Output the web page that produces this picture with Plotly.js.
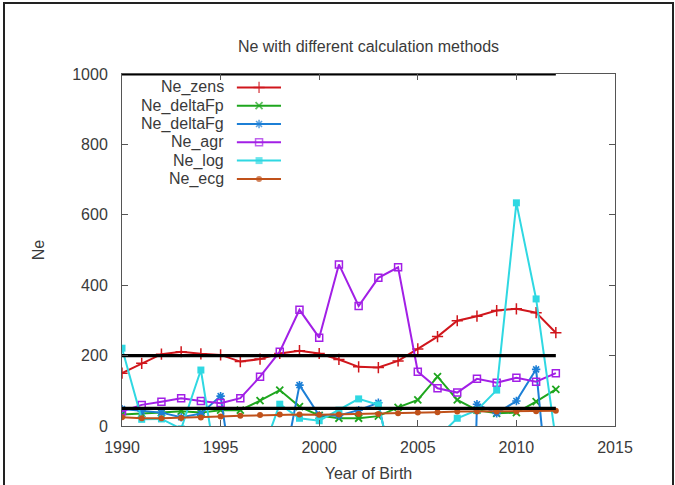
<!DOCTYPE html>
<html>
<head>
<meta charset="utf-8">
<script src="https://cdn.plot.ly/plotly-3.0.1.min.js"></script>
<style>
  html, body { margin: 0; padding: 0; background: #fff; }
  #wrap { position: relative; width: 675px; height: 485px; overflow: hidden; }
  #chart { width: 675px; height: 485px; }
  #frame { position: absolute; left: 3px; top: 2px; width: 667px; height: 520px;
           border: 2px solid #222; pointer-events: none; }
</style>
</head>
<body>
<div id="wrap">
  <div id="chart"></div>
  <div id="frame"></div>
</div>
<script>
// Year of birth
const years = [1990, 1991, 1992, 1993, 1994, 1995, 1996, 1997, 1998, 1999, 2000, 2001,
               2002, 2003, 2004, 2005, 2006, 2007, 2008, 2009, 2010, 2011, 2012];

// Ne estimates per calculation method (negative estimates fall below the axis)
const neZens    = [150, 178, 204, 211, 205, 202, 183, 190, 206, 214, 206, 189,
                   168, 166, 185, 219, 254, 299, 312, 328, 333, 322, 265];
const neDeltaFp = [33, 35, 38, 42, 38, 45, 45, 72, 102, 55, 30, 22,
                   22, 28, 53, 74, 140, 74, 45, 36, 38, 69, 104];
const neDeltaFg = [48, 42, 38, 25, 35, 85, -294, -200, -174, 116, 30, 30,
                   45, 66, -198, -100, -100, -2000, 62, 36, 71, 161, -414];
const neAgr     = [42, 60, 69, 79, 71, 65, 79, 140, 211, 330, 251, 459,
                   341, 421, 451, 154, 107, 95, 134, 123, 137, 126, 150];
const neLog     = [221, 19, 20, -8, 159, -186, -150, -93, 62, 22, 15, 45,
                   77, 60, -180, -100, -33, 22, 45, 102, 634, 361, -40];
const neEcg     = [25, 22, 22, 23, 24, 27, 29, 31, 33, 33, 32, 33,
                   34, 34, 36, 38, 39, 41, 41, 41, 41, 42, 43];

// Reference levels
const thresholds = [50, 200, 1000];
const thresholdSpan = [1990, 2012];

const seriesNames = ['Ne_zens', 'Ne_deltaFp', 'Ne_deltaFg', 'Ne_agr', 'Ne_log', 'Ne_ecg'];
const seriesValues = [neZens, neDeltaFp, neDeltaFg, neAgr, neLog, neEcg];

const styles = [
  { color: '#d0161c', symbol: 'cross-thin', size: 8, lw: 1.5 },
  { color: '#1ea61e', symbol: 'x-thin', size: 7, lw: 1.8 },
  { color: '#1c7fd6', symbol: 'asterisk-open', size: 7, lw: 1.6 },
  { color: '#a21fe6', symbol: 'square-open', size: 7, lw: 1.5 },
  { color: '#2fd8e2', symbol: 'square', size: 7, lw: 0 },
  { color: '#c0511a', symbol: 'circle', size: 6, lw: 0 }
];

const FONT = 'Liberation Sans, Arial, sans-serif';
const traces = [];

seriesNames.forEach((name, i) => {
  const s = styles[i];
  traces.push({
    type: 'scatter', mode: 'lines+markers', name: name,
    x: years, y: seriesValues[i], showlegend: false,
    line: { color: s.color, width: 2 },
    marker: { symbol: s.symbol, size: s.size, color: s.color,
              line: { color: s.color, width: s.lw } }
  });
});

thresholds.forEach(level => {
  traces.push({
    type: 'scatter', mode: 'lines', x: thresholdSpan, y: [level, level],
    showlegend: false, hoverinfo: 'skip', cliponaxis: false,
    line: { color: '#000', width: 3.2 }
  });
});

// Key: label on the left, sample line with point on the right
const keyRows = [0.962, 0.910, 0.858, 0.806, 0.754, 0.702];
const keySample = [0.233, 0.278, 0.3225];
const annotations = [];
seriesNames.forEach((name, i) => {
  const s = styles[i];
  traces.push({
    type: 'scatter', mode: 'lines+markers', xaxis: 'x2', yaxis: 'y2',
    x: keySample, y: [keyRows[i], keyRows[i], keyRows[i]], showlegend: false,
    hoverinfo: 'skip', cliponaxis: false,
    line: { color: s.color, width: 2 },
    marker: { symbol: s.symbol, size: [0, s.size, 0], color: s.color,
              line: { color: s.color, width: s.lw } }
  });
  annotations.push({
    xref: 'paper', yref: 'paper', x: 0.211, y: keyRows[i],
    xanchor: 'right', yanchor: 'middle', showarrow: false, text: name,
    font: { family: FONT, size: 16, color: '#3a3a3a' }
  });
});

const layout = {
  width: 675, height: 485,
  margin: { l: 122, r: 60, t: 74, b: 59 },
  paper_bgcolor: '#fff', plot_bgcolor: '#fff',
  showlegend: false,
  font: { family: FONT, size: 16, color: '#3a3a3a' },
  title: {
    text: 'Ne with different calculation methods',
    font: { family: FONT, size: 16, color: '#3a3a3a' },
    x: 0.5, xref: 'paper', y: 1 - 46 / 485, yref: 'container', yanchor: 'middle'
  },
  xaxis: {
    range: [1990, 2015], dtick: 5, tick0: 1990,
    ticks: 'inside', ticklen: 6, tickcolor: '#555', tickwidth: 1,
    showline: true, linecolor: '#555', linewidth: 1, mirror: 'allticks',
    showgrid: false, zeroline: false, ticklabelstandoff: 7,
    tickfont: { family: FONT, size: 16, color: '#3a3a3a' },
    title: { text: 'Year of Birth', standoff: 12,
             font: { family: FONT, size: 16, color: '#3a3a3a' } }
  },
  yaxis: {
    range: [0, 1000], dtick: 200, tick0: 0,
    ticks: 'inside', ticklen: 6, tickcolor: '#555', tickwidth: 1,
    showline: true, linecolor: '#555', linewidth: 1, mirror: 'allticks',
    showgrid: false, zeroline: false, ticklabelstandoff: 10,
    tickfont: { family: FONT, size: 16, color: '#3a3a3a' },
    title: { text: 'Ne', standoff: 23,
             font: { family: FONT, size: 16, color: '#3a3a3a' } }
  },
  xaxis2: { overlaying: 'x', range: [0, 1], visible: false, fixedrange: true },
  yaxis2: { overlaying: 'y', range: [0, 1], visible: false, fixedrange: true },
  annotations: annotations
};

Plotly.newPlot('chart', traces, layout, { staticPlot: true, displayModeBar: false });
</script>
</body>
</html>
